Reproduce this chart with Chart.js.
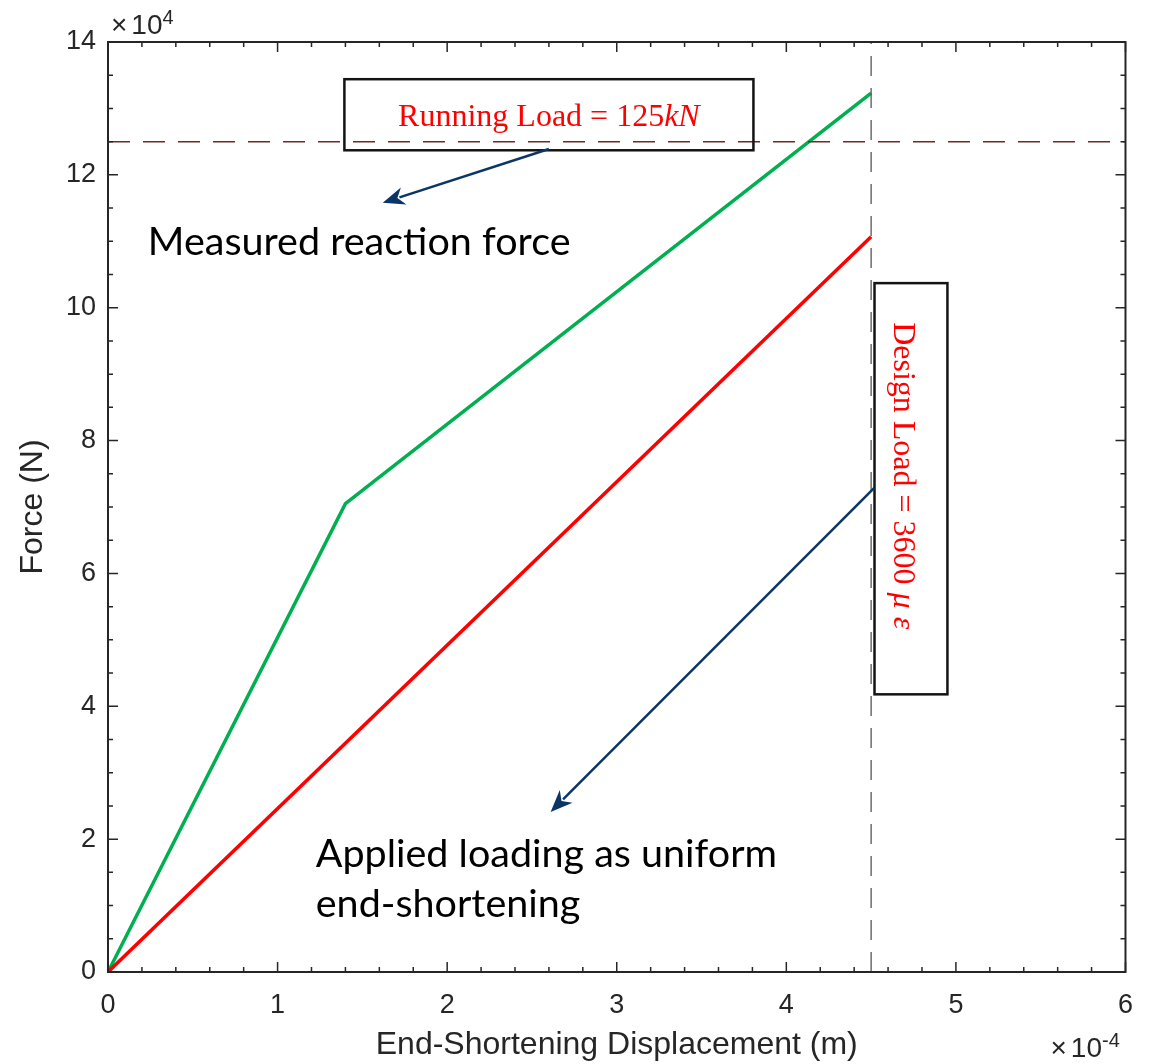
<!DOCTYPE html>
<html>
<head>
<meta charset="utf-8">
<script src="https://cdn.jsdelivr.net/npm/chart.js@4.4.1/dist/chart.umd.min.js"></script>
<style>
  html, body { margin: 0; padding: 0; background: #fff; }
</style>
</head>
<body>
<canvas id="forceChart" width="1150" height="1064"></canvas>
<script>
// displacement in 1e-4 m, force in 1e4 N
const reactionDisp = [0, 1.4, 4.5];
const reactionForce = [0, 7.05, 13.23];
const appliedDisp = [0, 4.5];
const appliedForce = [0, 11.07];
const runningLoad = 12.5;   // 125 kN
const designDisp = 4.5;     // 3600 micro-strain end-shortening
const xTickValues = [0, 1, 2, 3, 4, 5, 6];
const yTickValues = [0, 2, 4, 6, 8, 10, 12, 14];

const axisColor = '#262626';
const sansFamily = '"Liberation Sans", Arial, sans-serif';
const tickFont = { family: sansFamily, size: 27 };
const titleFont = { family: sansFamily, size: 32 };

function toPoints(xs, ys) {
  return xs.map((x, i) => ({ x: x, y: ys[i] }));
}

// box outline plus inward major/minor ticks, MATLAB style
const axesBox = {
  id: 'axesBox',
  afterDraw(chart) {
    const { ctx, chartArea: a, scales: { x, y } } = chart;
    ctx.save();
    ctx.strokeStyle = axisColor;
    ctx.lineWidth = 2;
    ctx.strokeRect(a.left, a.top, a.right - a.left, a.bottom - a.top);
    ctx.lineWidth = 1.5;
    ctx.beginPath();
    for (let v = 0; v <= 6.0001; v += 0.2) {
      const px = x.getPixelForValue(v);
      const len = Math.abs(v - Math.round(v)) < 1e-6 ? 10 : 5;
      ctx.moveTo(px, a.bottom); ctx.lineTo(px, a.bottom - len);
      ctx.moveTo(px, a.top); ctx.lineTo(px, a.top + len);
    }
    for (let v = 0; v <= 14.0001; v += 0.5) {
      const py = y.getPixelForValue(v);
      const len = Math.abs(v / 2 - Math.round(v / 2)) < 1e-6 ? 10 : 5;
      ctx.moveTo(a.left, py); ctx.lineTo(a.left + len, py);
      ctx.moveTo(a.right, py); ctx.lineTo(a.right - len, py);
    }
    ctx.stroke();

    // exponent labels
    ctx.fillStyle = axisColor;
    ctx.textBaseline = 'alphabetic';
    ctx.textAlign = 'left';
    drawExponent(ctx, a.left + 3, a.top - 8, '4');
    drawExponent(ctx, a.right - 75, chart.height - 7, '-4');
    ctx.restore();
  }
};

function drawExponent(ctx, x0, base, exp) {
  ctx.font = '28px ' + sansFamily;
  ctx.fillText('\u00d7', x0, base);
  let w = ctx.measureText('\u00d7').width + 4;
  ctx.fillText('10', x0 + w, base);
  w += ctx.measureText('10').width;
  ctx.font = '20px ' + sansFamily;
  ctx.fillText(exp, x0 + w, base - 10);
}

function drawArrow(ctx, x1, y1, x2, y2) {
  const ang = Math.atan2(y2 - y1, x2 - x1);
  const head = 22, half = 9;
  const c = Math.cos(ang), s = Math.sin(ang);
  ctx.beginPath();
  ctx.moveTo(x1, y1);
  ctx.lineTo(x2 - c * head * 0.8, y2 - s * head * 0.8);
  ctx.stroke();
  ctx.beginPath();
  ctx.moveTo(x2, y2);
  ctx.lineTo(x2 - c * head - s * half, y2 - s * head + c * half);
  ctx.lineTo(x2 - c * head * 0.7, y2 - s * head * 0.7);
  ctx.lineTo(x2 - c * head + s * half, y2 - s * head - c * half);
  ctx.closePath();
  ctx.fill();
}

// draws a plain string followed by an italic one, centred on (0, 0)
function mixedText(ctx, plain, italic, size, family) {
  ctx.font = size + 'px ' + family;
  const wA = ctx.measureText(plain).width;
  ctx.font = 'italic ' + size + 'px ' + family;
  const wB = ctx.measureText(italic).width;
  const x0 = -(wA + wB) / 2;
  ctx.font = size + 'px ' + family;
  ctx.fillText(plain, x0, 0);
  ctx.font = 'italic ' + size + 'px ' + family;
  ctx.fillText(italic, x0 + wA, 0);
}

// text boxes, arrows and notes, placed in data units
const notes = {
  id: 'notes',
  afterDatasetsDraw(chart) {
    const { ctx, scales: { x, y } } = chart;
    const px = v => x.getPixelForValue(v);
    const py = v => y.getPixelForValue(v);
    const serif = '"Liberation Serif", "DejaVu Serif", serif';
    ctx.save();

    // label boxes
    ctx.strokeStyle = '#141414';
    ctx.lineWidth = 2.5;
    ctx.strokeRect(px(1.394), py(13.44), px(3.806) - px(1.394), py(12.37) - py(13.44));
    ctx.strokeRect(px(4.52), py(10.37), px(4.95) - px(4.52), py(4.18) - py(10.37));

    ctx.fillStyle = '#ff0000';
    ctx.textBaseline = 'alphabetic';
    ctx.textAlign = 'left';

    // Running load label
    ctx.translate((px(1.394) + px(3.806)) / 2, py(12.74));
    mixedText(ctx, 'Running Load = 125', 'kN', 32, serif);
    ctx.setTransform(1, 0, 0, 1, 0, 0);

    // Design load label, rotated to read downwards
    ctx.translate(px(4.635), (py(10.37) + py(4.18)) / 2 - 13);
    ctx.rotate(Math.PI / 2);
    mixedText(ctx, 'Design Load = 3600 ', '\u03bc \u03b5', 32, serif);
    ctx.setTransform(1, 0, 0, 1, 0, 0);

    // arrows
    ctx.strokeStyle = '#0b3566';
    ctx.fillStyle = '#0b3566';
    ctx.lineWidth = 2.5;
    drawArrow(ctx, px(2.6), py(12.39), px(1.62), py(11.58));
    drawArrow(ctx, px(4.52), py(7.29), px(2.61), py(2.41));

    // notes
    ctx.fillStyle = '#000';
    ctx.font = '39.5px Lato, "Open Sans", sans-serif';
    ctx.fillText('Measured reaction force', px(0.235), py(10.8));
    ctx.fillText('Applied loading as uniform', px(1.225), py(1.58));
    ctx.fillText('end-shortening', px(1.225), py(0.83));
    ctx.restore();
  }
};

new Chart(document.getElementById('forceChart'), {
  type: 'scatter',
  data: {
    datasets: [
      {
        label: 'Running load',
        data: [{ x: 0, y: runningLoad }, { x: 6, y: runningLoad }],
        showLine: true,
        borderColor: '#6e2a2a',
        borderWidth: 1.5,
        borderDash: [22, 13],
        pointRadius: 0
      },
      {
        label: 'Design load',
        data: [{ x: designDisp, y: 0 }, { x: designDisp, y: 14 }],
        showLine: true,
        borderColor: '#555555',
        borderWidth: 1.3,
        borderDash: [20, 12],
        pointRadius: 0
      },
      {
        label: 'Applied end-shortening',
        data: toPoints(appliedDisp, appliedForce),
        showLine: true,
        borderColor: '#ff0000',
        borderWidth: 3.5,
        pointRadius: 0
      },
      {
        label: 'Measured reaction force',
        data: toPoints(reactionDisp, reactionForce),
        showLine: true,
        borderColor: '#00b050',
        borderWidth: 3.5,
        pointRadius: 0
      }
    ]
  },
  options: {
    responsive: false,
    devicePixelRatio: 1,
    animation: false,
    layout: { padding: { top: 42, right: 23, left: 0, bottom: 0 } },
    plugins: { legend: { display: false }, tooltip: { enabled: false } },
    scales: {
      x: {
        type: 'linear',
        min: 0,
        max: 6,
        afterBuildTicks: s => { s.ticks = xTickValues.map(v => ({ value: v })); },
        afterFit: s => { s.height = 92; },
        ticks: { color: axisColor, font: tickFont, padding: 17 },
        grid: { display: false, drawTicks: false },
        border: { display: false },
        title: {
          display: true,
          text: 'End-Shortening Displacement (m)',
          color: axisColor,
          font: titleFont,
          padding: { top: 0, bottom: 0 }
        }
      },
      y: {
        type: 'linear',
        min: 0,
        max: 14,
        afterBuildTicks: s => { s.ticks = yTickValues.map(v => ({ value: v })); },
        afterFit: s => { s.width = 108; },
        ticks: { color: axisColor, font: tickFont, padding: 12 },
        grid: { display: false, drawTicks: false },
        border: { display: false },
        title: {
          display: true,
          text: 'Force (N)',
          color: axisColor,
          font: titleFont,
          padding: { top: 14, bottom: 0 }
        }
      }
    }
  },
  plugins: [axesBox, notes]
});
</script>
</body>
</html>
